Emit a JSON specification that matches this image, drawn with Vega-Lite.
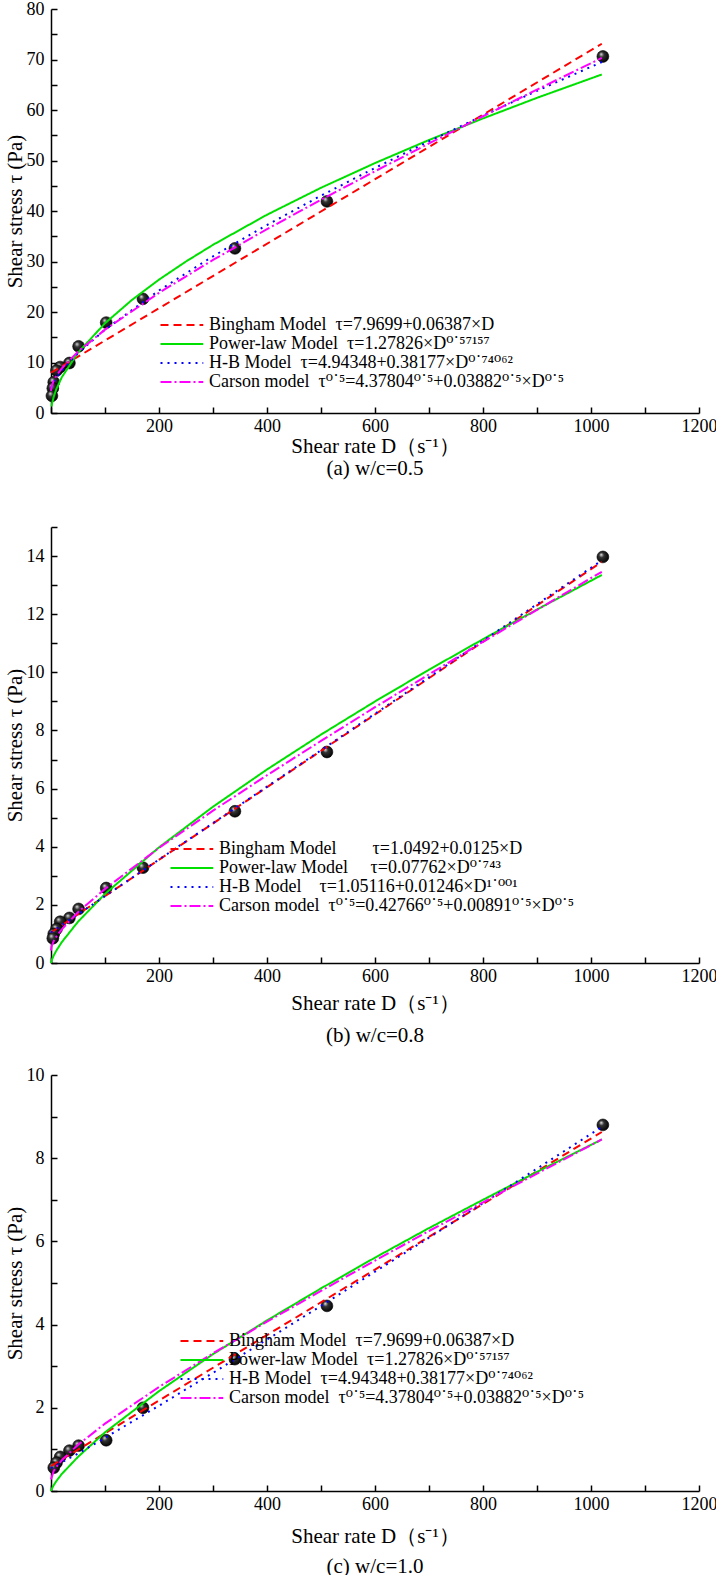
{
  "$schema": "https://vega.github.io/schema/vega-lite/v6.json",
  "padding": {"left": 4, "top": 0, "right": 0, "bottom": 0},
  "config": {
    "view": {"stroke": null},
    "font": "Liberation Serif",
    "axis": {"grid": false, "domainColor": "#000", "domainWidth": 1.5, "tickColor": "#000", "tickWidth": 1.5, "tickSize": -6, "labelFont": "Liberation Serif", "labelFontSize": 18, "labelColor": "#000", "titleFont": "Liberation Serif", "titleFontSize": 21, "titleFontWeight": "normal", "titleColor": "#000", "labelFlush": false, "labelOverlap": false, "format": "d"},
    "axisX": {"labelPadding": 10},
    "axisY": {"labelPadding": 13, "titlePadding": 1},
    "legend": {"labelFont": "Liberation Serif, DejaVu Serif", "labelFontSize": 18, "labelColor": "#000", "labelLimit": 700},
    "title": {"font": "Liberation Serif", "fontSize": 21, "fontWeight": "normal", "color": "#000"}
  },
  "datasets": {
    "pts": [
      {"p":"a","D":1022,"tau":70.6},{"p":"a","D":511,"tau":41.9},{"p":"a","D":340.6,"tau":32.6},{"p":"a","D":170.3,"tau":22.6},{"p":"a","D":102.2,"tau":17.9},{"p":"a","D":51.1,"tau":13.2},{"p":"a","D":34.1,"tau":9.9},{"p":"a","D":17,"tau":9.1},{"p":"a","D":10.2,"tau":8.4},{"p":"a","D":5.1,"tau":6.1},{"p":"a","D":3.4,"tau":4.9},{"p":"a","D":1.7,"tau":3.4},
      {"p":"b","D":1022,"tau":13.97},{"p":"b","D":511,"tau":7.26},{"p":"b","D":340.6,"tau":5.22},{"p":"b","D":170.3,"tau":3.28},{"p":"b","D":102.2,"tau":2.58},{"p":"b","D":51.1,"tau":1.86},{"p":"b","D":34.1,"tau":1.55},{"p":"b","D":17,"tau":1.42},{"p":"b","D":10.2,"tau":1.17},{"p":"b","D":5.1,"tau":1.0},{"p":"b","D":3.4,"tau":0.85},
      {"p":"c","D":1022,"tau":8.8},{"p":"c","D":511,"tau":4.45},{"p":"c","D":340.6,"tau":3.17},{"p":"c","D":170.3,"tau":2.0},{"p":"c","D":102.2,"tau":1.22},{"p":"c","D":51.1,"tau":1.09},{"p":"c","D":34.1,"tau":0.97},{"p":"c","D":17,"tau":0.82},{"p":"c","D":10.2,"tau":0.68},{"p":"c","D":5.1,"tau":0.56}
    ],
    "fit": [
      {"p":"a","m":"B","k":"B","D":0,"tau":7.97},{"p":"a","m":"B","k":"B","D":1020,"tau":73.12},
      {"p":"a","m":"P","k":"P","D":1,"tau":1.28},{"p":"a","m":"P","k":"P","D":2,"tau":1.9},{"p":"a","m":"P","k":"P","D":5,"tau":3.21},{"p":"a","m":"P","k":"P","D":10,"tau":4.77},{"p":"a","m":"P","k":"P","D":20,"tau":7.08},{"p":"a","m":"P","k":"P","D":50,"tau":11.96},{"p":"a","m":"P","k":"P","D":100,"tau":17.77},{"p":"a","m":"P","k":"P","D":150,"tau":22.4},{"p":"a","m":"P","k":"P","D":200,"tau":26.41},{"p":"a","m":"P","k":"P","D":250,"tau":30.0},{"p":"a","m":"P","k":"P","D":300,"tau":33.3},{"p":"a","m":"P","k":"P","D":400,"tau":39.26},{"p":"a","m":"P","k":"P","D":500,"tau":44.6},{"p":"a","m":"P","k":"P","D":600,"tau":49.49},{"p":"a","m":"P","k":"P","D":700,"tau":54.06},{"p":"a","m":"P","k":"P","D":800,"tau":58.33},{"p":"a","m":"P","k":"P","D":900,"tau":62.41},{"p":"a","m":"P","k":"P","D":1020,"tau":67.03},
      {"p":"a","m":"H","k":"H","D":0,"tau":4.94},{"p":"a","m":"H","k":"H","D":5,"tau":6.2},{"p":"a","m":"H","k":"H","D":10,"tau":7.04},{"p":"a","m":"H","k":"H","D":20,"tau":8.45},{"p":"a","m":"H","k":"H","D":50,"tau":11.86},{"p":"a","m":"H","k":"H","D":100,"tau":16.51},{"p":"a","m":"H","k":"H","D":200,"tau":24.26},{"p":"a","m":"H","k":"H","D":300,"tau":31.03},{"p":"a","m":"H","k":"H","D":400,"tau":37.22},{"p":"a","m":"H","k":"H","D":500,"tau":43.03},{"p":"a","m":"H","k":"H","D":600,"tau":48.53},{"p":"a","m":"H","k":"H","D":700,"tau":53.8},{"p":"a","m":"H","k":"H","D":800,"tau":58.88},{"p":"a","m":"H","k":"H","D":900,"tau":63.8},{"p":"a","m":"H","k":"H","D":1020,"tau":69.5},
      {"p":"a","m":"C","k":"C","D":0,"tau":4.38},{"p":"a","m":"C","k":"C","D":1,"tau":5.24},{"p":"a","m":"C","k":"C","D":5,"tau":6.42},{"p":"a","m":"C","k":"C","D":10,"tau":7.37},{"p":"a","m":"C","k":"C","D":20,"tau":8.84},{"p":"a","m":"C","k":"C","D":50,"tau":12.15},{"p":"a","m":"C","k":"C","D":100,"tau":16.51},{"p":"a","m":"C","k":"C","D":200,"tau":23.8},{"p":"a","m":"C","k":"C","D":300,"tau":30.31},{"p":"a","m":"C","k":"C","D":400,"tau":36.4},{"p":"a","m":"C","k":"C","D":500,"tau":42.23},{"p":"a","m":"C","k":"C","D":600,"tau":47.87},{"p":"a","m":"C","k":"C","D":700,"tau":53.37},{"p":"a","m":"C","k":"C","D":800,"tau":58.76},{"p":"a","m":"C","k":"C","D":900,"tau":64.05},{"p":"a","m":"C","k":"C","D":1020,"tau":70.31},
      {"p":"b","m":"B","k":"B","D":0,"tau":1.05},{"p":"b","m":"B","k":"B","D":1020,"tau":13.8},
      {"p":"b","m":"P","k":"P","D":0,"tau":0},{"p":"b","m":"P","k":"P","D":1,"tau":0.078},{"p":"b","m":"P","k":"P","D":2,"tau":0.13},{"p":"b","m":"P","k":"P","D":5,"tau":0.257},{"p":"b","m":"P","k":"P","D":10,"tau":0.429},{"p":"b","m":"P","k":"P","D":20,"tau":0.719},{"p":"b","m":"P","k":"P","D":50,"tau":1.42},{"p":"b","m":"P","k":"P","D":100,"tau":2.377},{"p":"b","m":"P","k":"P","D":200,"tau":3.978},{"p":"b","m":"P","k":"P","D":300,"tau":5.376},{"p":"b","m":"P","k":"P","D":400,"tau":6.658},{"p":"b","m":"P","k":"P","D":500,"tau":7.858},{"p":"b","m":"P","k":"P","D":600,"tau":8.998},{"p":"b","m":"P","k":"P","D":700,"tau":10.09},{"p":"b","m":"P","k":"P","D":800,"tau":11.14},{"p":"b","m":"P","k":"P","D":900,"tau":12.16},{"p":"b","m":"P","k":"P","D":1020,"tau":13.35},
      {"p":"b","m":"H","k":"H","D":0,"tau":1.05},{"p":"b","m":"H","k":"H","D":100,"tau":2.3},{"p":"b","m":"H","k":"H","D":200,"tau":3.56},{"p":"b","m":"H","k":"H","D":500,"tau":7.32},{"p":"b","m":"H","k":"H","D":1020,"tau":13.85},
      {"p":"b","m":"C","k":"C","D":0,"tau":0.43},{"p":"b","m":"C","k":"C","D":1,"tau":0.56},{"p":"b","m":"C","k":"C","D":2,"tau":0.62},{"p":"b","m":"C","k":"C","D":5,"tau":0.75},{"p":"b","m":"C","k":"C","D":10,"tau":0.91},{"p":"b","m":"C","k":"C","D":20,"tau":1.16},{"p":"b","m":"C","k":"C","D":50,"tau":1.75},{"p":"b","m":"C","k":"C","D":100,"tau":2.55},{"p":"b","m":"C","k":"C","D":200,"tau":3.96},{"p":"b","m":"C","k":"C","D":300,"tau":5.24},{"p":"b","m":"C","k":"C","D":400,"tau":6.46},{"p":"b","m":"C","k":"C","D":500,"tau":7.64},{"p":"b","m":"C","k":"C","D":600,"tau":8.8},{"p":"b","m":"C","k":"C","D":700,"tau":9.93},{"p":"b","m":"C","k":"C","D":800,"tau":11.05},{"p":"b","m":"C","k":"C","D":900,"tau":12.15},{"p":"b","m":"C","k":"C","D":1020,"tau":13.46},
      {"p":"c","m":"B","k":"B","D":0,"tau":0.6},{"p":"c","m":"B","k":"B","D":1020,"tau":8.63},
      {"p":"c","m":"P","k":"P","D":0,"tau":0},{"p":"c","m":"P","k":"P","D":1,"tau":0.04},{"p":"c","m":"P","k":"P","D":5,"tau":0.14},{"p":"c","m":"P","k":"P","D":10,"tau":0.24},{"p":"c","m":"P","k":"P","D":20,"tau":0.41},{"p":"c","m":"P","k":"P","D":50,"tau":0.82},{"p":"c","m":"P","k":"P","D":100,"tau":1.41},{"p":"c","m":"P","k":"P","D":200,"tau":2.4},{"p":"c","m":"P","k":"P","D":300,"tau":3.29},{"p":"c","m":"P","k":"P","D":400,"tau":4.1},{"p":"c","m":"P","k":"P","D":500,"tau":4.87},{"p":"c","m":"P","k":"P","D":600,"tau":5.61},{"p":"c","m":"P","k":"P","D":700,"tau":6.32},{"p":"c","m":"P","k":"P","D":800,"tau":7.0},{"p":"c","m":"P","k":"P","D":900,"tau":7.67},{"p":"c","m":"P","k":"P","D":1020,"tau":8.45},
      {"p":"c","m":"H","k":"H","D":0,"tau":0.55},{"p":"c","m":"H","k":"H","D":50,"tau":0.9},{"p":"c","m":"H","k":"H","D":100,"tau":1.28},{"p":"c","m":"H","k":"H","D":200,"tau":2.05},{"p":"c","m":"H","k":"H","D":300,"tau":2.84},{"p":"c","m":"H","k":"H","D":400,"tau":3.64},{"p":"c","m":"H","k":"H","D":500,"tau":4.45},{"p":"c","m":"H","k":"H","D":600,"tau":5.27},{"p":"c","m":"H","k":"H","D":700,"tau":6.09},{"p":"c","m":"H","k":"H","D":800,"tau":6.92},{"p":"c","m":"H","k":"H","D":900,"tau":7.75},{"p":"c","m":"H","k":"H","D":1020,"tau":8.75},
      {"p":"c","m":"C","k":"C","D":0,"tau":0.28},{"p":"c","m":"C","k":"C","D":5,"tau":0.48},{"p":"c","m":"C","k":"C","D":10,"tau":0.58},{"p":"c","m":"C","k":"C","D":20,"tau":0.74},{"p":"c","m":"C","k":"C","D":50,"tau":1.11},{"p":"c","m":"C","k":"C","D":100,"tau":1.62},{"p":"c","m":"C","k":"C","D":200,"tau":2.5},{"p":"c","m":"C","k":"C","D":300,"tau":3.31},{"p":"c","m":"C","k":"C","D":400,"tau":4.07},{"p":"c","m":"C","k":"C","D":500,"tau":4.81},{"p":"c","m":"C","k":"C","D":600,"tau":5.54},{"p":"c","m":"C","k":"C","D":700,"tau":6.25},{"p":"c","m":"C","k":"C","D":800,"tau":6.94},{"p":"c","m":"C","k":"C","D":900,"tau":7.63},{"p":"c","m":"C","k":"C","D":1020,"tau":8.45}
    ]
  },
  "spacing": 39,
  "resolve": {"scale": {"x": "independent", "y": "independent", "color": "independent", "strokeDash": "independent", "opacity": "independent"}},
  "vconcat": [
    {
      "width": 648, "height": 404,
      "title": {"text": "(a) w/c=0.5", "orient": "bottom", "offset": 2},
      "encoding": {
        "x": {"field": "D", "type": "quantitative", "scale": {"domain": [0, 1200], "nice": false}, "axis": {"title": "Shear rate D（s⁻¹）", "titlePadding": 0, "values": [0,100,200,300,400,500,600,700,800,900,1000,1100,1200], "labelExpr": "datum.value > 0 && datum.value % 200 === 0 ? datum.label : ''"}},
        "y": {"field": "tau", "type": "quantitative", "scale": {"domain": [0, 80], "nice": false}, "axis": {"title": "Shear stress τ (Pa)", "values": [0,5,10,15,20,25,30,35,40,45,50,55,60,65,70,75,80], "labelExpr": "datum.value % 10 === 0 ? datum.label : ''"}}
      },
      "layer": [
        {"data": {"name": "pts"}, "transform": [{"filter": "datum.p === 'a'"}],
         "mark": {"type": "point", "filled": true, "size": 140, "opacity": 1, "stroke": "#000", "strokeWidth": 0.6, "fill": {"gradient": "radial", "x1": 0.35, "y1": 0.3, "r1": 0, "x2": 0.45, "y2": 0.45, "r2": 0.6, "stops": [{"offset": 0, "color": "#e6e6e6"}, {"offset": 0.35, "color": "#333333"}, {"offset": 1, "color": "#000000"}]}}},
        {"data": {"name": "fit"}, "transform": [{"filter": "datum.p === 'a'"}],
         "mark": {"type": "line", "strokeWidth": 2},
         "encoding": {
           "color": {"field": "m", "type": "nominal", "scale": {"domain": ["B","P","H","C"], "range": ["#ff0000","#00e000","#0000ff","#ff00ff"]},
             "legend": {"orient": "none", "legendX": 105, "legendY": 307, "title": null, "symbolType": "M-1,0H8.5", "symbolSize": 81, "symbolStrokeWidth": 2, "labelOffset": 35, "rowPadding": 1,
               "labelExpr": "datum.label === 'B' ? 'Bingham Model\u00a0\u00a0τ=7.9699+0.06387×D' : datum.label === 'P' ? 'Power-law Model\u00a0\u00a0τ=1.27826×D⁰˙⁵⁷¹⁵⁷' : datum.label === 'H' ? 'H-B Model\u00a0\u00a0τ=4.94348+0.38177×D⁰˙⁷⁴⁰⁶²' : 'Carson model\u00a0\u00a0τ⁰˙⁵=4.37804⁰˙⁵+0.03882⁰˙⁵×D⁰˙⁵'"}},
           "strokeDash": {"field": "m", "type": "nominal", "scale": {"domain": ["B","P","H","C"], "range": [[8,5],[1,0],[2,5],[11,3,2,3]]},
             "legend": {"orient": "none", "legendX": 105, "legendY": 307, "title": null, "symbolType": "M-1,0H8.5", "symbolSize": 81, "symbolStrokeWidth": 2, "labelOffset": 35, "rowPadding": 1,
               "labelExpr": "datum.label === 'B' ? 'Bingham Model\u00a0\u00a0τ=7.9699+0.06387×D' : datum.label === 'P' ? 'Power-law Model\u00a0\u00a0τ=1.27826×D⁰˙⁵⁷¹⁵⁷' : datum.label === 'H' ? 'H-B Model\u00a0\u00a0τ=4.94348+0.38177×D⁰˙⁷⁴⁰⁶²' : 'Carson model\u00a0\u00a0τ⁰˙⁵=4.37804⁰˙⁵+0.03882⁰˙⁵×D⁰˙⁵'"}},
           "opacity": {"field": "k", "type": "ordinal", "scale": {"domain": ["B","P","H","C"], "range": [1,1,1,1]},
             "legend": {"orient": "none", "legendX": 546, "legendY": 307, "title": null, "symbolSize": 0, "symbolStrokeWidth": 0, "symbolStrokeColor": "transparent", "symbolFillColor": "transparent", "labelOffset": 0, "rowPadding": 1,
               "labelExpr": "datum.label === 'B' ? 'R²=0.980' : datum.label === 'P' ? 'R²=0.982' : datum.label === 'H' ? 'R²=0.996' : 'R²=0.997'"}}
         }}
      ]
    },
    {
      "spacing": 20,
      "resolve": {"scale": {"x": "independent", "y": "independent", "color": "independent", "strokeDash": "independent", "opacity": "independent"}},
      "vconcat": [
        {
          "width": 648, "height": 436,
          "title": {"text": "(b) w/c=0.8", "orient": "bottom", "offset": 12},
          "encoding": {
            "x": {"field": "D", "type": "quantitative", "scale": {"domain": [0, 1200], "nice": false}, "axis": {"title": "Shear rate D（s⁻¹）", "titlePadding": 7, "values": [0,100,200,300,400,500,600,700,800,900,1000,1100,1200], "labelExpr": "datum.value > 0 && datum.value % 200 === 0 ? datum.label : ''"}},
            "y": {"field": "tau", "type": "quantitative", "scale": {"domain": [0, 15], "nice": false}, "axis": {"title": "Shear stress τ (Pa)", "values": [0,1,2,3,4,5,6,7,8,9,10,11,12,13,14,15], "labelExpr": "datum.value % 2 === 0 ? datum.label : ''"}}
          },
          "layer": [
            {"data": {"name": "pts"}, "transform": [{"filter": "datum.p === 'b'"}],
             "mark": {"type": "point", "filled": true, "size": 140, "opacity": 1, "stroke": "#000", "strokeWidth": 0.6, "fill": {"gradient": "radial", "x1": 0.35, "y1": 0.3, "r1": 0, "x2": 0.45, "y2": 0.45, "r2": 0.6, "stops": [{"offset": 0, "color": "#e6e6e6"}, {"offset": 0.35, "color": "#333333"}, {"offset": 1, "color": "#000000"}]}}},
            {"data": {"name": "fit"}, "transform": [{"filter": "datum.p === 'b'"}],
             "mark": {"type": "line", "strokeWidth": 2},
             "encoding": {
               "color": {"field": "m", "type": "nominal", "scale": {"domain": ["B","P","H","C"], "range": ["#ff0000","#00e000","#0000ff","#ff00ff"]},
                 "legend": {"orient": "none", "legendX": 115, "legendY": 313, "title": null, "symbolType": "M-1,0H8.5", "symbolSize": 81, "symbolStrokeWidth": 2, "labelOffset": 35, "rowPadding": 1,
                   "labelExpr": "datum.label === 'B' ? 'Bingham Model\u00a0\u00a0\u00a0\u00a0\u00a0\u00a0\u00a0\u00a0τ=1.0492+0.0125×D' : datum.label === 'P' ? 'Power-law Model\u00a0\u00a0\u00a0\u00a0\u00a0τ=0.07762×D⁰˙⁷⁴³' : datum.label === 'H' ? 'H-B Model\u00a0\u00a0\u00a0\u00a0τ=1.05116+0.01246×D¹˙⁰⁰¹' : 'Carson model\u00a0\u00a0τ⁰˙⁵=0.42766⁰˙⁵+0.00891⁰˙⁵×D⁰˙⁵'"}},
               "strokeDash": {"field": "m", "type": "nominal", "scale": {"domain": ["B","P","H","C"], "range": [[8,5],[1,0],[2,5],[11,3,2,3]]},
                 "legend": {"orient": "none", "legendX": 115, "legendY": 313, "title": null, "symbolType": "M-1,0H8.5", "symbolSize": 81, "symbolStrokeWidth": 2, "labelOffset": 35, "rowPadding": 1,
                   "labelExpr": "datum.label === 'B' ? 'Bingham Model\u00a0\u00a0\u00a0\u00a0\u00a0\u00a0\u00a0\u00a0τ=1.0492+0.0125×D' : datum.label === 'P' ? 'Power-law Model\u00a0\u00a0\u00a0\u00a0\u00a0τ=0.07762×D⁰˙⁷⁴³' : datum.label === 'H' ? 'H-B Model\u00a0\u00a0\u00a0\u00a0τ=1.05116+0.01246×D¹˙⁰⁰¹' : 'Carson model\u00a0\u00a0τ⁰˙⁵=0.42766⁰˙⁵+0.00891⁰˙⁵×D⁰˙⁵'"}},
               "opacity": {"field": "k", "type": "ordinal", "scale": {"domain": ["B","P","H","C"], "range": [1,1,1,1]},
                 "legend": {"orient": "none", "legendX": 575, "legendY": 313, "title": null, "symbolSize": 0, "symbolStrokeWidth": 0, "symbolStrokeColor": "transparent", "symbolFillColor": "transparent", "labelOffset": 0, "rowPadding": 1,
                   "labelExpr": "datum.label === 'B' ? 'R²=0.998' : datum.label === 'P' ? 'R²=0.970' : datum.label === 'H' ? 'R²=0.998' : 'R²=0.992'"}}
             }}
          ]
        },
        {
          "width": 648, "height": 416,
          "title": {"text": "(c) w/c=1.0", "orient": "bottom", "offset": 10},
          "encoding": {
            "x": {"field": "D", "type": "quantitative", "scale": {"domain": [0, 1200], "nice": false}, "axis": {"title": "Shear rate D（s⁻¹）", "titlePadding": 12, "values": [0,100,200,300,400,500,600,700,800,900,1000,1100,1200], "labelExpr": "datum.value > 0 && datum.value % 200 === 0 ? datum.label : ''"}},
            "y": {"field": "tau", "type": "quantitative", "scale": {"domain": [0, 10], "nice": false}, "axis": {"title": "Shear stress τ (Pa)", "values": [0,1,2,3,4,5,6,7,8,9,10], "labelExpr": "datum.value % 2 === 0 ? datum.label : ''"}}
          },
          "layer": [
            {"data": {"name": "pts"}, "transform": [{"filter": "datum.p === 'c'"}],
             "mark": {"type": "point", "filled": true, "size": 140, "opacity": 1, "stroke": "#000", "strokeWidth": 0.6, "fill": {"gradient": "radial", "x1": 0.35, "y1": 0.3, "r1": 0, "x2": 0.45, "y2": 0.45, "r2": 0.6, "stops": [{"offset": 0, "color": "#e6e6e6"}, {"offset": 0.35, "color": "#333333"}, {"offset": 1, "color": "#000000"}]}}},
            {"data": {"name": "fit"}, "transform": [{"filter": "datum.p === 'c'"}],
             "mark": {"type": "line", "strokeWidth": 2},
             "encoding": {
               "color": {"field": "m", "type": "nominal", "scale": {"domain": ["B","P","H","C"], "range": ["#ff0000","#00e000","#0000ff","#ff00ff"]},
                 "legend": {"orient": "none", "legendX": 125, "legendY": 257, "title": null, "symbolType": "M-1,0H8.5", "symbolSize": 81, "symbolStrokeWidth": 2, "labelOffset": 35, "rowPadding": 1,
                   "labelExpr": "datum.label === 'B' ? 'Bingham Model\u00a0\u00a0τ=7.9699+0.06387×D' : datum.label === 'P' ? 'Power-law Model\u00a0\u00a0τ=1.27826×D⁰˙⁵⁷¹⁵⁷' : datum.label === 'H' ? 'H-B Model\u00a0\u00a0τ=4.94348+0.38177×D⁰˙⁷⁴⁰⁶²' : 'Carson model\u00a0\u00a0τ⁰˙⁵=4.37804⁰˙⁵+0.03882⁰˙⁵×D⁰˙⁵'"}},
               "strokeDash": {"field": "m", "type": "nominal", "scale": {"domain": ["B","P","H","C"], "range": [[8,5],[1,0],[2,5],[11,3,2,3]]},
                 "legend": {"orient": "none", "legendX": 125, "legendY": 257, "title": null, "symbolType": "M-1,0H8.5", "symbolSize": 81, "symbolStrokeWidth": 2, "labelOffset": 35, "rowPadding": 1,
                   "labelExpr": "datum.label === 'B' ? 'Bingham Model\u00a0\u00a0τ=7.9699+0.06387×D' : datum.label === 'P' ? 'Power-law Model\u00a0\u00a0τ=1.27826×D⁰˙⁵⁷¹⁵⁷' : datum.label === 'H' ? 'H-B Model\u00a0\u00a0τ=4.94348+0.38177×D⁰˙⁷⁴⁰⁶²' : 'Carson model\u00a0\u00a0τ⁰˙⁵=4.37804⁰˙⁵+0.03882⁰˙⁵×D⁰˙⁵'"}},
               "opacity": {"field": "k", "type": "ordinal", "scale": {"domain": ["B","P","H","C"], "range": [1,1,1,1]},
                 "legend": {"orient": "none", "legendX": 570, "legendY": 257, "title": null, "symbolSize": 0, "symbolStrokeWidth": 0, "symbolStrokeColor": "transparent", "symbolFillColor": "transparent", "labelOffset": 0, "rowPadding": 1,
                   "labelExpr": "datum.label === 'B' ? 'R²=0.999' : datum.label === 'P' ? 'R²=0.970' : datum.label === 'H' ? 'R²=0.998' : 'R²=0.988'"}}
             }}
          ]
        }
      ]
    }
  ]
}
